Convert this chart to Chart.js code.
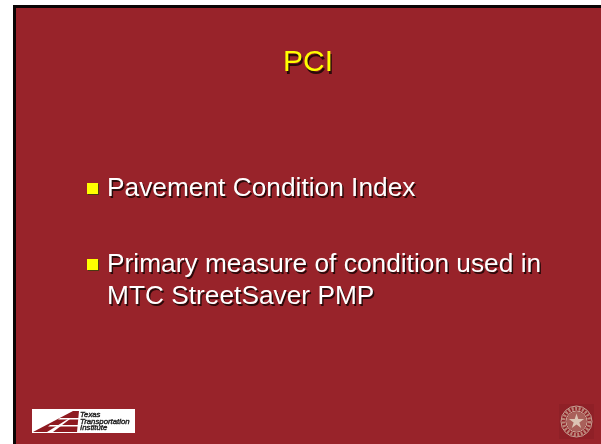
<!DOCTYPE html>
<html>
<head>
<meta charset="utf-8">
<script src="https://cdn.jsdelivr.net/npm/chart.js@4"></script>
<style>
  html, body { margin: 0; padding: 0; background: #fff; }
  canvas { display: block; }
</style>
</head>
<body>
<canvas id="myChart" width="601" height="444"></canvas>
<script>
const slideTitle = "PCI";
const bulletLines = [
  ["Pavement Condition Index"],
  ["Primary measure of condition used in", "MTC StreetSaver PMP"]
];
const logoLines = ["Texas", "Transportation", "Institute"];

const RED = "#98232a";
const SHADOW = "#2a0a0a";
const FONT = "'Liberation Sans', Arial, sans-serif";

function shadowText(ctx, text, x, y, color) {
  ctx.fillStyle = SHADOW;
  ctx.fillText(text, x + 1.5, y + 1.5);
  ctx.fillStyle = color;
  ctx.fillText(text, x, y);
}

function poly(ctx, pts, color) {
  ctx.fillStyle = color;
  ctx.beginPath();
  pts.forEach((p, i) => i ? ctx.lineTo(p[0], p[1]) : ctx.moveTo(p[0], p[1]));
  ctx.closePath();
  ctx.fill();
}

function ring(ctx, cx, cy, r, width, color, dash) {
  ctx.strokeStyle = color;
  ctx.lineWidth = width;
  ctx.setLineDash(dash || []);
  ctx.beginPath();
  ctx.arc(cx, cy, r, 0, Math.PI * 2);
  ctx.stroke();
  ctx.setLineDash([]);
}

function drawLogo(ctx) {
  ctx.fillStyle = "#fff";
  ctx.fillRect(32, 409, 103, 24);
  // road graphic
  poly(ctx, [[33, 432], [73, 411], [79, 411], [77, 432]], "#8e1a20");
  poly(ctx, [[60, 418], [80, 418], [80, 419.5], [58, 419.5]], "#fff");
  poly(ctx, [[50, 425], [80, 425], [80, 426.5], [48, 426.5]], "#fff");
  poly(ctx, [[47, 432], [68, 419], [70, 419], [53, 432]], "#fff");
  ctx.fillStyle = "#222";
  ctx.strokeStyle = "#222";
  ctx.lineWidth = 0.4;
  ctx.font = "italic 7.8px " + FONT;
  ctx.textAlign = "left";
  const logoY = [417, 424, 430];
  logoLines.forEach((line, i) => {
    ctx.fillText(line, 80, logoY[i]);
    ctx.strokeText(line, 80, logoY[i]);
  });
}

function drawSeal(ctx) {
  const cx = 576.5, cy = 421.5;
  ctx.fillStyle = "#8f2027";
  ctx.fillRect(559, 404, 35, 35);
  ring(ctx, cx, cy, 15.5, 1, "#c8a498");
  ring(ctx, cx, cy, 13, 3.5, "#bb8578", [2, 1.5]);
  ring(ctx, cx, cy, 10.5, 1, "#d2b0a2");
  ctx.fillStyle = "#a9605a";
  ctx.beginPath();
  ctx.arc(cx, cy, 10, 0, Math.PI * 2);
  ctx.fill();
  ctx.fillStyle = "#dcc4b4";
  ctx.beginPath();
  for (let i = 0; i < 10; i++) {
    const r = i % 2 ? 3 : 8;
    const a = -Math.PI / 2 + i * Math.PI / 5;
    ctx.lineTo(cx + r * Math.cos(a), cy + r * Math.sin(a));
  }
  ctx.closePath();
  ctx.fill();
}

const slidePlugin = {
  id: "slide",
  beforeDraw(chart) {
    const ctx = chart.ctx;
    ctx.save();
    // black frame, then slide body
    ctx.fillStyle = "#0a0505";
    ctx.fillRect(13, 5, 588, 439);
    ctx.fillStyle = RED;
    ctx.fillRect(16, 8, 585, 436);

    // title drop shadow, the title plugin paints the yellow on top
    ctx.font = "30px " + FONT;
    ctx.textAlign = "center";
    ctx.textBaseline = "alphabetic";
    ctx.fillStyle = SHADOW;
    ctx.fillText(slideTitle, 309.5, 73.5);
    ctx.restore();
  },
  afterDraw(chart) {
    const ctx = chart.ctx;
    ctx.save();
    ctx.textBaseline = "alphabetic";
    ctx.textAlign = "left";
    ctx.font = "26.3px " + FONT;
    const bulletY = [196, 272];
    bulletLines.forEach((lines, b) => {
      const y = bulletY[b];
      ctx.fillStyle = "#4a3a10";
      ctx.fillRect(88, y - 12, 11, 11);
      ctx.fillStyle = "#ffff00";
      ctx.fillRect(87, y - 13, 11, 11);
      lines.forEach((line, i) => shadowText(ctx, line, 107, y + i * 32, "#fff"));
    });
    drawLogo(ctx);
    drawSeal(ctx);
    ctx.restore();
  }
};

let ctx = document.getElementById("myChart").getContext("2d");
let myChart = new Chart(ctx, {
  type: "scatter",
  data: { datasets: [] },
  plugins: [slidePlugin],
  options: {
    responsive: false,
    animation: false,
    layout: { padding: { left: 15 } },
    scales: { x: { display: false }, y: { display: false } },
    plugins: {
      legend: { display: false },
      tooltip: { enabled: false },
      title: {
        display: true,
        text: slideTitle,
        color: "#ffff00",
        font: { family: FONT, size: 30, weight: "normal" },
        padding: { top: 45, bottom: 0 }
      }
    }
  }
});
</script>
</body>
</html>
